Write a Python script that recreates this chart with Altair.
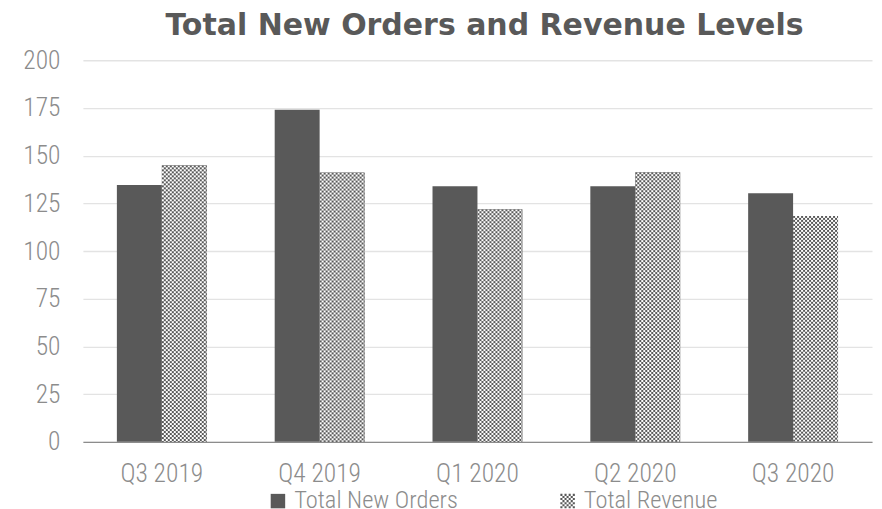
import base64
import altair as alt
import pandas as pd

quarters = ["Q3 2019", "Q4 2019", "Q1 2020", "Q2 2020", "Q3 2020"]
orders = [134.6, 174.0, 134.0, 134.0, 130.3]
revenue = [144.9, 141.1, 121.9, 141.3, 118.4]
series = ["Total New Orders", "Total Revenue"]

rows = []
for q, o, r in zip(quarters, orders, revenue):
    rows.append({"quarter": q, "series": series[0], "value": o})
    rows.append({"quarter": q, "series": series[1], "value": r})
df = pd.DataFrame(rows)

DARK = "#595959"
LABEL = "#8c8c8c"
FONT = "Roboto Condensed, Roboto, sans-serif"
FW = 300
FS = 25.5

# checkerboard tile as an SVG image (2px cells)
svg = (
    "<svg xmlns='http://www.w3.org/2000/svg' width='45' height='400'>"
    "<defs><pattern id='p' width='4' height='4' patternUnits='userSpaceOnUse'>"
    "<rect width='4' height='4' fill='#ffffff'/>"
    "<rect width='2' height='2' fill='#595959'/>"
    "<rect x='2' y='2' width='2' height='2' fill='#595959'/>"
    "</pattern></defs><rect width='45' height='400' fill='url(#p)'/></svg>"
)
checker_url = "data:image/svg+xml;base64," + base64.b64encode(svg.encode()).decode()
df["img"] = checker_url

# checkerboard legend symbol path in [-1, 1] space (7x7 cells)
n = 7
d = 2.0 / n
parts = []
for r in range(n):
    for c in range(n):
        if (r + c) % 2 == 0:
            x0 = -1 + c * d
            y0 = -1 + r * d
            parts.append(f"M{x0:.4f},{y0:.4f}h{d:.4f}v{d:.4f}h{-d:.4f}Z")
checker_path = "".join(parts)
shape_expr = f"datum.value === '{series[1]}' ? '{checker_path}' : 'square'"

x_enc = alt.X(
    "quarter:N",
    sort=quarters,
    scale=alt.Scale(paddingInner=0.4304, paddingOuter=0.2152),
    axis=alt.Axis(
        title=None, labelAngle=0, ticks=False, tickSize=0, labelPadding=20,
        domainColor="#8c8c8c", domainWidth=1.2, labelColor=LABEL,
        labelFont=FONT, labelFontWeight=FW, labelFontSize=FS, grid=False,
    ),
)
xoff = alt.XOffset("series:N", scale=alt.Scale(domain=series, paddingInner=0, paddingOuter=0))
y_enc = alt.Y(
    "value:Q",
    scale=alt.Scale(domain=[0, 200], nice=False),
    axis=alt.Axis(
        title=None, values=[0, 25, 50, 75, 100, 125, 150, 175, 200],
        domain=False, ticks=False, tickSize=0, labelPadding=23,
        labelColor=LABEL, labelFont=FONT, labelFontWeight=FW, labelFontSize=FS,
        gridColor="#e3e3e3", gridWidth=1.3,
    ),
)

base = alt.Chart(df)

bars = base.mark_bar().encode(
    x=x_enc,
    xOffset=xoff,
    y=y_enc,
    fill=alt.Fill(
        "series:N",
        scale=alt.Scale(domain=series, range=[DARK, DARK]),
        legend=alt.Legend(
            title=None, orient="none", direction="horizontal",
            legendX=183, legendY=429, padding=0,
            labelFont=FONT, labelFontWeight=FW, labelFontSize=24.5, labelColor=LABEL,
            labelOffset=4, labelLimit=0, columnPadding=97, symbolSize=210,
            symbolStrokeWidth=0, symbolOpacity=1,
            symbolType={"expr": shape_expr},
        ),
    ),
)

img = base.transform_filter(alt.datum.series == series[1]).mark_image(
    width=45, height=400, aspect=False, align="center", baseline="top", clip=True
).encode(
    x=x_enc,
    xOffset=xoff,
    y=y_enc,
    url="img:N",
)

chart = (
    alt.layer(bars, img)
    .properties(
        width=790,
        height=382,
        autosize=alt.AutoSizeParams(type="none"),
        padding={"left": 75, "top": 52, "right": 2, "bottom": 70},
        title=alt.TitleParams(
            "Total New Orders and Revenue Levels",
            font="DejaVu Sans", fontSize=30, fontWeight="bold", color=DARK,
            anchor="middle", frame="group", dx=7, offset=7,
        ),
    )
    .configure(background="white")
    .configure_view(stroke=None, strokeWidth=0)
)

chart.save("out.html", embed_options={"renderer": "svg", "actions": False})
